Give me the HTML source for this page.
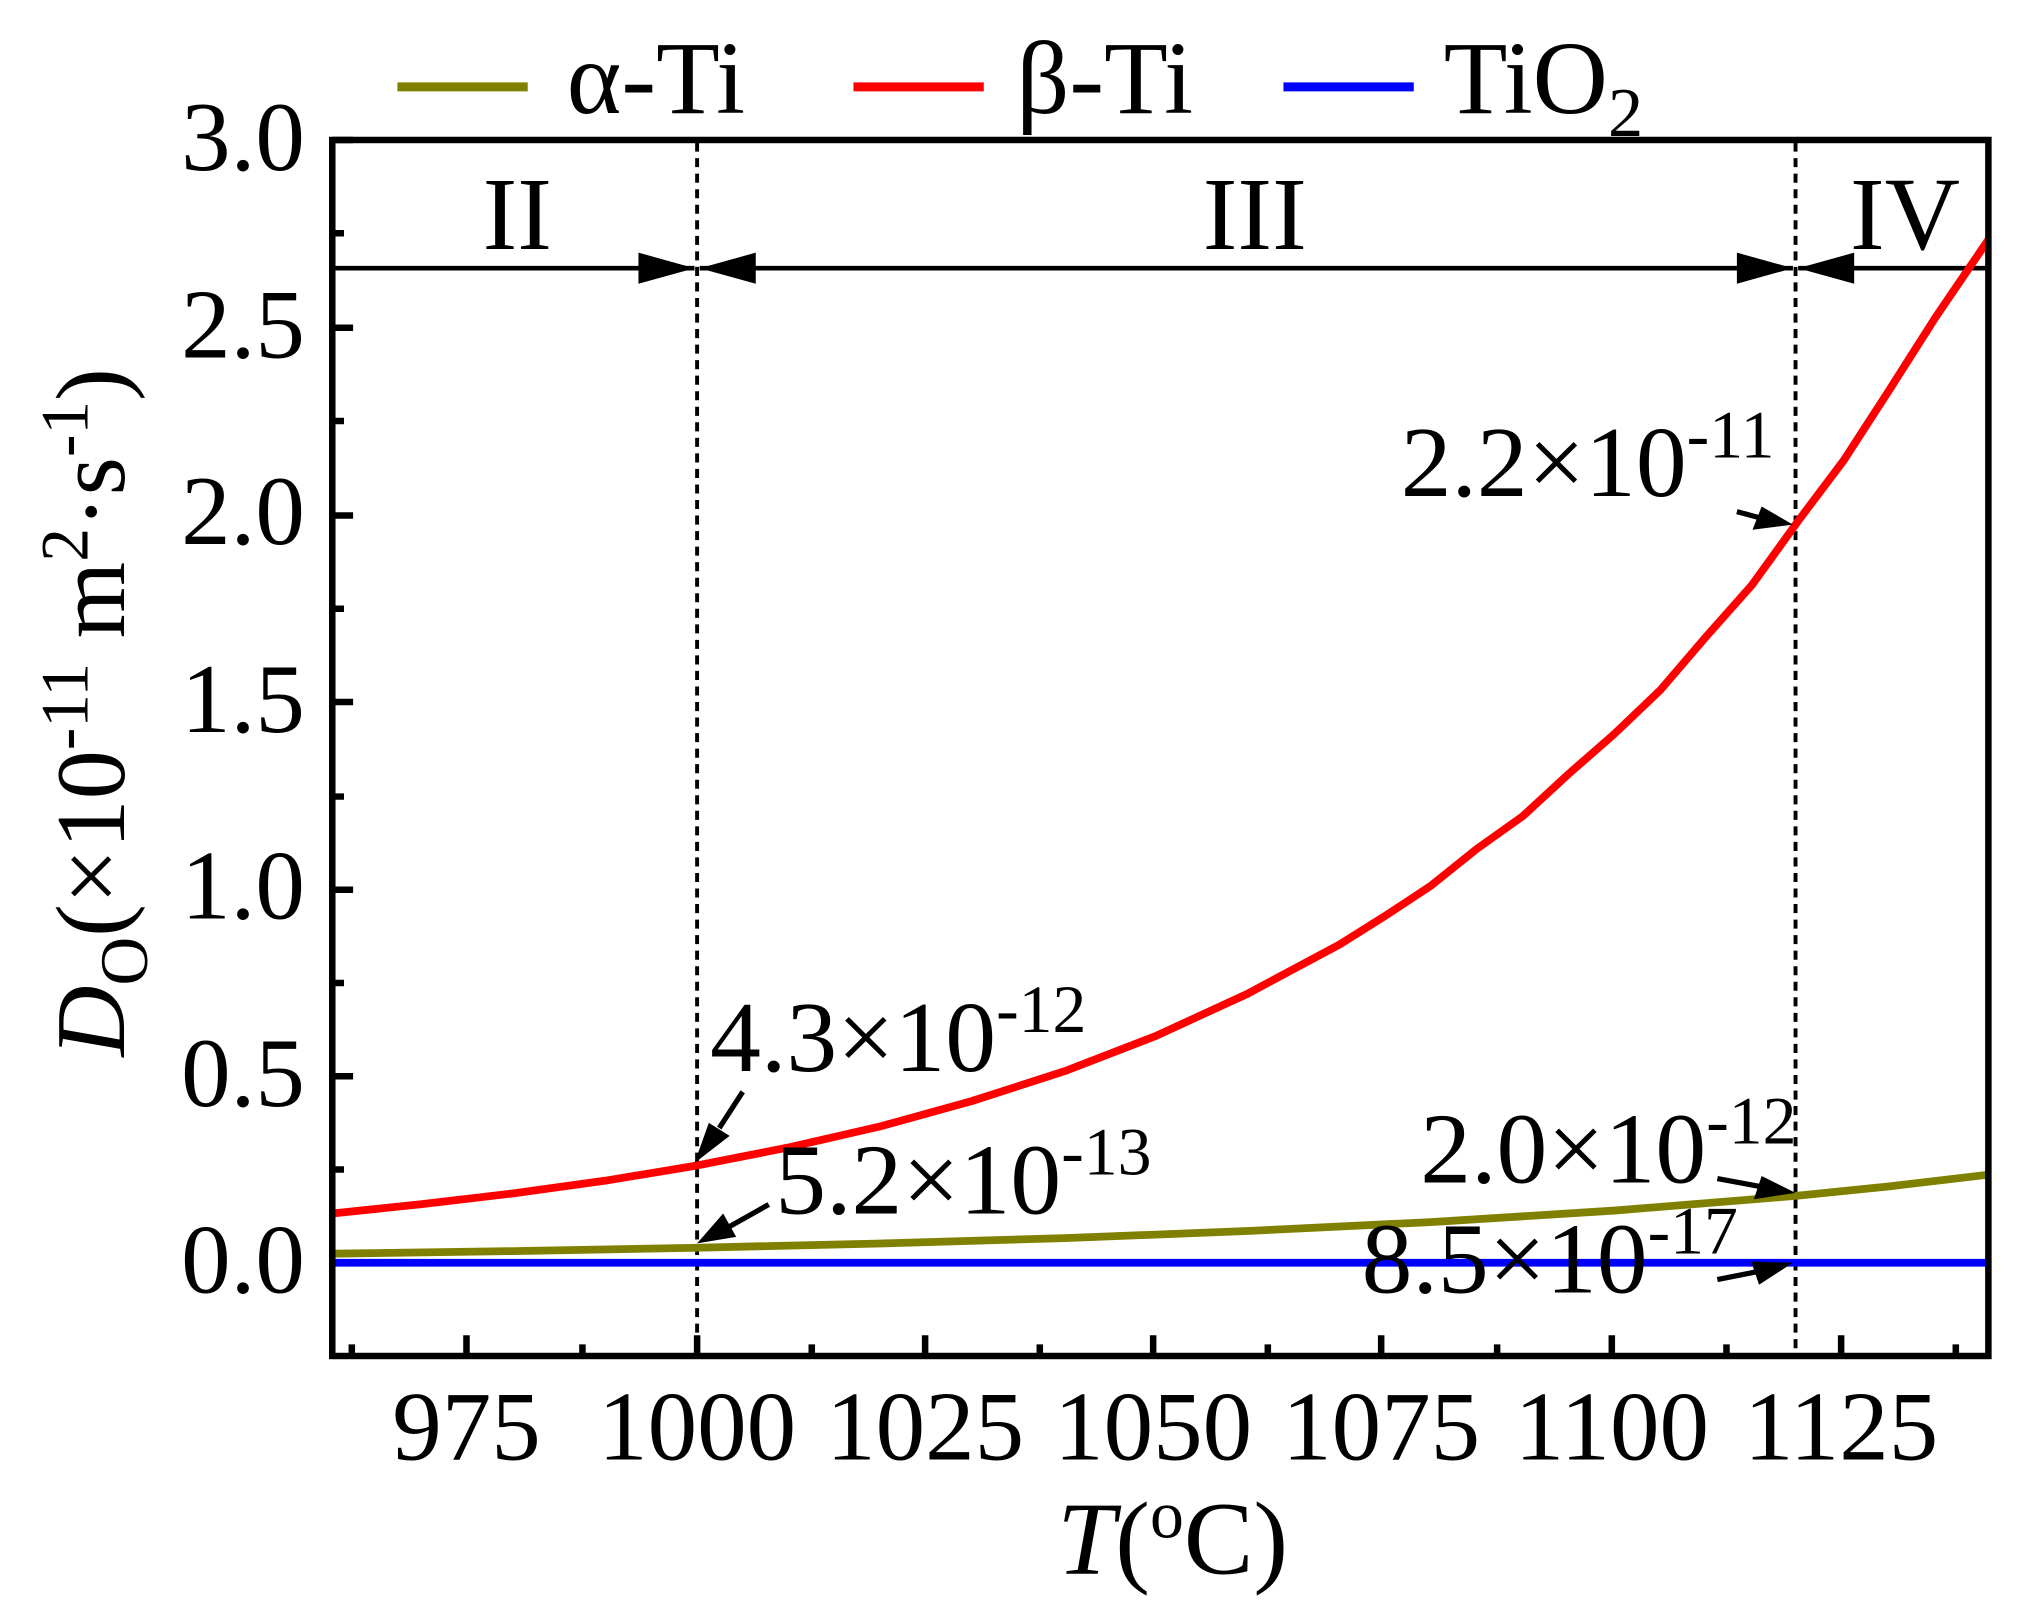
<!DOCTYPE html>
<html><head><meta charset="utf-8"><style>
html,body{margin:0;padding:0;background:#fff;}
svg{display:block;}
text{font-family:"Liberation Serif",serif;fill:#000;}
</style></head><body>
<svg width="2039" height="1622" viewBox="0 0 2039 1622" xmlns="http://www.w3.org/2000/svg">
<g transform="matrix(1.303 0 0 1.295 0 6.6)">
<!-- legend -->
<line x1="305" y1="62" x2="405" y2="62" stroke="#808000" stroke-width="7"/>
<text x="435" y="82" font-size="80">α-Ti</text>
<line x1="655" y1="62" x2="755" y2="62" stroke="#ff0000" stroke-width="7"/>
<text x="780" y="82" font-size="80">β-Ti</text>
<line x1="985" y1="62" x2="1085" y2="62" stroke="#0000ff" stroke-width="7"/>
<text x="1108" y="82" font-size="80">TiO<tspan font-size="54" dy="18">2</tspan></text>

<!-- y tick labels -->
<g font-size="76" text-anchor="end">
<text x="234" y="126">3.0</text>
<text x="234" y="271">2.5</text>
<text x="234" y="415">2.0</text>
<text x="234" y="560">1.5</text>
<text x="234" y="704">1.0</text>
<text x="234" y="849">0.5</text>
<text x="234" y="993">0.0</text>
</g>
<!-- x tick labels -->
<g font-size="76" text-anchor="middle">
<text x="358" y="1122">975</text>
<text x="535" y="1122">1000</text>
<text x="710" y="1122">1025</text>
<text x="885" y="1122">1050</text>
<text x="1060" y="1122">1075</text>
<text x="1237" y="1122">1100</text>
<text x="1413" y="1122">1125</text>
</g>
<text x="900" y="1210" font-size="80" text-anchor="middle"><tspan font-style="italic">T</tspan>(<tspan font-size="52" dy="-28">o</tspan><tspan dy="28">C)</tspan></text>
<text transform="translate(95,545) rotate(-90)" font-size="76" text-anchor="middle"><tspan font-style="italic">D</tspan><tspan font-size="52" dy="18">O</tspan><tspan dy="-18">(×10</tspan><tspan font-size="52" dy="-28">-11</tspan><tspan dy="28"> m</tspan><tspan font-size="52" dy="-28">2</tspan><tspan dy="28">·s</tspan><tspan font-size="52" dy="-28">-1</tspan><tspan dy="28">)</tspan></text>

<!-- ticks -->
<g stroke="#000" stroke-width="5">
<path d="M255,103 h16 M255,175 h9 M255,248 h16 M255,320 h9 M255,393 h16 M255,465 h9 M255,537 h16 M255,610 h9 M255,682 h16 M255,754 h9 M255,826 h16 M255,898 h9 M255,970 h16"/>
<path d="M270,1042 v-9 M358,1042 v-16 M447,1042 v-9 M535,1042 v-16 M623,1042 v-9 M710,1042 v-16 M798,1042 v-9 M885,1042 v-16 M973,1042 v-9 M1060,1042 v-16 M1149,1042 v-9 M1237,1042 v-16 M1325,1042 v-9 M1413,1042 v-16 M1501,1042 v-9"/>
</g>

<!-- dashed lines -->
<g stroke="#000" stroke-width="3" stroke-dasharray="7,5">
<line x1="535" y1="105" x2="535" y2="1040"/>
<line x1="1378" y1="105" x2="1378" y2="1040"/>
</g>
<!-- region arrows -->
<g stroke="#000" stroke-width="3.5">
<line x1="257" y1="202" x2="533" y2="202"/>
<line x1="537" y1="202" x2="1376" y2="202"/>
<line x1="1380" y1="202" x2="1526" y2="202"/>
</g>
<path d="M490,190 L533,202 L490,214 z M580,190 L537,202 L580,214 z M1333,190 L1376,202 L1333,214 z M1423,190 L1380,202 L1423,214 z" fill="#000"/>
<g font-size="80" text-anchor="middle">
<text x="397" y="187">II</text>
<text x="963" y="187">III</text>
<text x="1462" y="187">IV</text>
</g>

<!-- curves -->
<polyline fill="none" stroke="#0000ff" stroke-width="6" points="255,970 1526,970"/>
<polyline fill="none" stroke="#808000" stroke-width="6" stroke-linejoin="round" points="255,963 394,961 535,958.4 676,955.1 817,951 957,945.5 1098,938.6 1239,929.7 1380,918.2 1450,911 1526,902"/>
<polyline fill="none" stroke="#ff0000" stroke-width="6" stroke-linejoin="round" points="255,932 323.8,924.7 394,916.4 464.6,906.6 535,894.9 605,881 676,864.6 746,845.1 817,822.1 887,794.9 957,762.5 1028,724.3 1063,702.2 1098,679 1133.4,650.4 1168.6,625.2 1203.8,592.6 1239,561.6 1274.2,527.8 1309.4,486.5 1344.6,446.6 1380,397.2 1415,350.4 1450,296 1485.4,240 1526,180"/>

<!-- annotations -->
<g font-size="78">
<text x="1075" y="378">2.2×10<tspan font-size="52" dy="-30">-11</tspan></text>
<text x="545" y="822">4.3×10<tspan font-size="52" dy="-30">-12</tspan></text>
<text x="595" y="932">5.2×10<tspan font-size="52" dy="-30">-13</tspan></text>
<text x="1090" y="908">2.0×10<tspan font-size="52" dy="-30">-12</tspan></text>
<text x="1045" y="993">8.5×10<tspan font-size="52" dy="-30">-17</tspan></text>
</g>
<g stroke="#000" stroke-width="4">
<line x1="1333" y1="390" x2="1355" y2="396"/>
<line x1="570" y1="838" x2="552" y2="866"/>
<line x1="590" y1="925" x2="560" y2="942"/>
<line x1="1318" y1="905" x2="1350" y2="911"/>
<line x1="1318" y1="983" x2="1348" y2="977"/>
</g>
<path d="M1376,400 L1345,404 L1352,386 z M533,893 L544,862 L560,872 z M535,955 L555,932 L565,950 z M1378,916 L1346,921 L1352,903 z M1376,970 L1350,987 L1344,969 z" fill="#000"/>

<!-- frame -->
<rect x="255" y="103" width="1271" height="939" fill="none" stroke="#000" stroke-width="5"/>
</g>
</svg>
</body></html>
